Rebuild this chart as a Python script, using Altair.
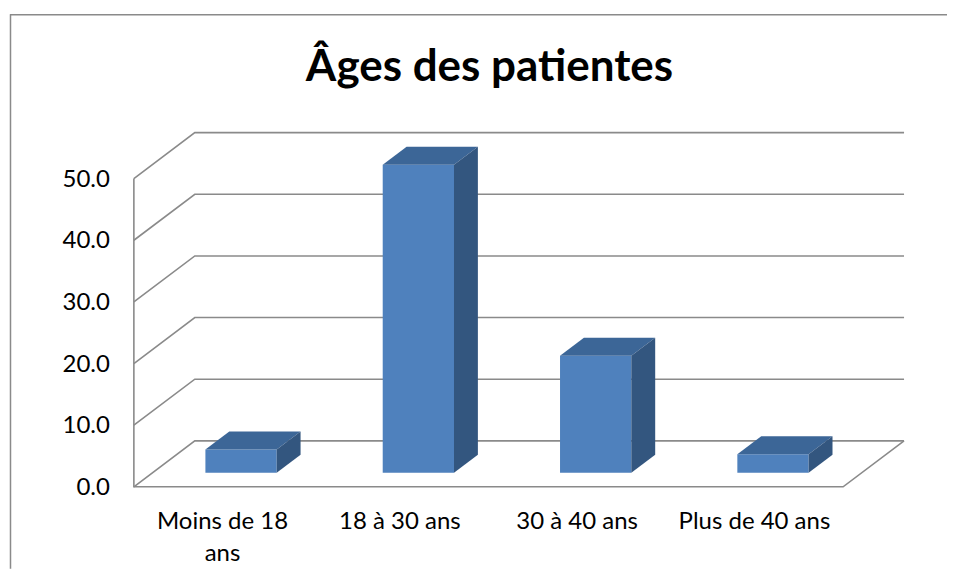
import altair as alt
import pandas as pd

# ---------------- data ----------------
categories = ["Moins de 18\nans", "18 à 30 ans", "30 à 40 ans", "Plus de 40 ans"]
values = [3.8, 50.0, 19.0, 3.0]
ticks = [0, 10, 20, 30, 40, 50]
tick_labels = ["0.0", "10.0", "20.0", "30.0", "40.0", "50.0"]
title_text = "Âges des patientes"

# ---------------- layout constants ----------------
W, H = 938, 555
CAT_PX = 177.5          # pixels per category along the front floor
X0 = 124                # front axis position inside the view (px)
PX_PER_UNIT = 6.17      # pixels per value unit
Y0 = 473                # value 0 position inside the view (px)
XDOM = [-X0 / CAT_PX, (W - X0) / CAT_PX]
YDOM = [-(H - Y0) / PX_PER_UNIT, Y0 / PX_PER_UNIT]

BACK_DX = 61 / CAT_PX   # oblique depth offset of back wall (category units)
BACK_DY = 46 / PX_PER_UNIT
FRONT_D, BACK_D = 0.304, 0.696   # bar front / back depth fractions
BAR_W = 0.402

FONT = "Lato"
GRID = "#8a8a8a"
FRONT_C, TOP_C, SIDE_C = "#4F81BD", "#3C6697", "#33567F"

xs = alt.Scale(domain=XDOM, nice=False, zero=False)
ys = alt.Scale(domain=YDOM, nice=False, zero=False)

# ---------------- gridlines / walls ----------------
rows = []
for t in ticks:
    pts = [(0, t), (BACK_DX, t + BACK_DY), (len(categories) + BACK_DX, t + BACK_DY)]
    for k, (x, y) in enumerate(pts):
        rows.append({"seg": f"g{t}", "o": k, "x": x, "y": y})
floor = [(0, ticks[-1]), (0, 0), (len(categories), 0),
         (len(categories) + BACK_DX, BACK_DY)]
for k, (x, y) in enumerate(floor):
    rows.append({"seg": "floor", "o": k, "x": x, "y": y})
grid_df = pd.DataFrame(rows)

grid = alt.Chart(grid_df).mark_line(color=GRID, strokeWidth=1.6).encode(
    x=alt.X("x:Q", scale=xs, axis=None),
    y=alt.Y("y:Q", scale=ys, axis=None),
    detail="seg:N",
    order="o:Q",
)

# ---------------- bars ----------------
fdx, fdy = FRONT_D * BACK_DX, FRONT_D * BACK_DY
ddx, ddy = (BACK_D - FRONT_D) * BACK_DX, (BACK_D - FRONT_D) * BACK_DY

front_rows, top_rows, side_rows = [], [], []
for i, (c, v) in enumerate(zip(categories, values)):
    xl = i + 0.5 - BAR_W / 2 + fdx
    xr = i + 0.5 + BAR_W / 2 + fdx
    front_rows.append({"bar": i, "xl": xl, "xr": xr, "y0": fdy, "y1": v + fdy})
    top_rows.append({"bar": i, "y": v + fdy, "xa": xl, "xb": xr})
    top_rows.append({"bar": i, "y": v + fdy + ddy, "xa": xl + ddx, "xb": xr + ddx})
    side_rows.append({"bar": i, "x": xr, "ya": fdy, "yb": v + fdy})
    side_rows.append({"bar": i, "x": xr + ddx, "ya": fdy + ddy, "yb": v + fdy + ddy})

front = alt.Chart(pd.DataFrame(front_rows)).mark_rect(color=FRONT_C).encode(
    x=alt.X("xl:Q", scale=xs, axis=None), x2="xr:Q",
    y=alt.Y("y0:Q", scale=ys, axis=None), y2="y1:Q",
)
top = alt.Chart(pd.DataFrame(top_rows)).mark_area(color=TOP_C, orient="horizontal").encode(
    y=alt.Y("y:Q", scale=ys, axis=None),
    x=alt.X("xa:Q", scale=xs, axis=None, stack=False), x2="xb:Q",
    detail="bar:N",
)
side = alt.Chart(pd.DataFrame(side_rows)).mark_area(color=SIDE_C, orient="vertical").encode(
    x=alt.X("x:Q", scale=xs, axis=None),
    y=alt.Y("ya:Q", scale=ys, axis=None, stack=False), y2="yb:Q",
    detail="bar:N",
)

# ---------------- labels ----------------
tick_df = pd.DataFrame({"t": ticks, "lab": tick_labels, "x": [0] * len(ticks)})
ytext = alt.Chart(tick_df).mark_text(
    align="right", baseline="middle", dx=-24, dy=1, font=FONT, fontSize=24, color="#000000"
).encode(
    x=alt.X("x:Q", scale=xs, axis=None),
    y=alt.Y("t:Q", scale=ys, axis=None),
    text="lab:N",
)

cat_df = pd.DataFrame({"c": categories, "x": [i + 0.5 for i in range(len(categories))],
                       "y": [0] * len(categories)})
xtext = alt.Chart(cat_df).mark_text(
    align="center", baseline="alphabetic", dy=42, lineBreak="\n", lineHeight=32,
    font=FONT, fontSize=24, color="#000000"
).encode(
    x=alt.X("x:Q", scale=xs, axis=None),
    y=alt.Y("y:Q", scale=ys, axis=None),
    text="c:N",
)

title = alt.Chart(pd.DataFrame({"t": [title_text]})).mark_text(
    align="center", baseline="alphabetic", font=FONT, fontSize=44, fontWeight="bold",
    color="#000000"
).encode(x=alt.value(480), y=alt.value(67), text="t:N")

border_top = alt.Chart(pd.DataFrame({"a": [0]})).mark_rule(color="#8a8a8a", strokeWidth=1.5).encode(
    x=alt.value(0), x2=alt.value(W), y=alt.value(0.5))
border_left = alt.Chart(pd.DataFrame({"a": [0]})).mark_rule(color="#8a8a8a", strokeWidth=1.5).encode(
    x=alt.value(0.5), y=alt.value(0), y2=alt.value(H))

chart = alt.layer(
    border_top, border_left, grid, front, top, side, ytext, xtext, title
).properties(
    width=W, height=H,
    padding={"left": 1, "top": 5, "right": 0, "bottom": 0},
).configure_view(strokeWidth=0)

chart.save("out.html", embed_options={"renderer": "svg", "actions": False})
